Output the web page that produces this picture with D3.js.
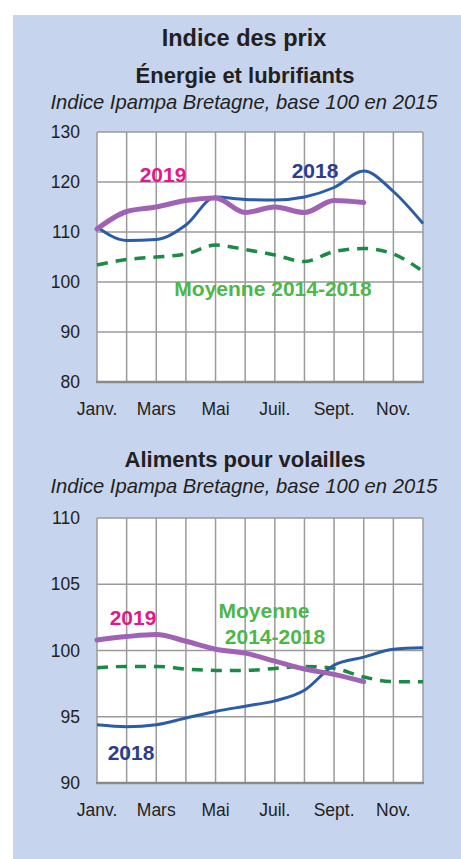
<!DOCTYPE html>
<html lang="fr">
<head>
<meta charset="UTF-8">
<title>Indice des prix</title>
<script src="https://cdn.jsdelivr.net/npm/d3@7"></script>
<style>
  body { margin: 0; background: #fff; }
  svg text { font-family: "Liberation Sans", Arial, sans-serif; }
</style>
</head>
<body>
<div id="chart"></div>
<script>
// mois (points de janvier à décembre)
var mois = ["Janv.", "Févr.", "Mars", "Avr.", "Mai", "Juin", "Juil.", "Août", "Sept.", "Oct.", "Nov.", "Déc."];
var moisAffiches = ["Janv.", "Mars", "Mai", "Juil.", "Sept.", "Nov."];

// Énergie et lubrifiants
var energie2018 = [111, 108.3, 108.5, 111.4, 117, 116.5, 116.4, 117, 118.9, 122.2, 118.1, 111.7];
var energie2019 = [110.6, 114.1, 115, 116.3, 116.8, 113.9, 115, 113.9, 116.3, 115.9];
var energieMoy = [103.4, 104.5, 105, 105.6, 107.4, 106.5, 105.4, 104.1, 106.1, 106.7, 105.6, 102.1];
var energieTicks = [80, 90, 100, 110, 120, 130];

// Aliments pour volailles
var aliments2018 = [94.4, 94.25, 94.4, 94.9, 95.4, 95.8, 96.2, 97.0, 98.9, 99.5, 100.1, 100.2];
var aliments2019 = [100.8, 101.05, 101.2, 100.7, 100.1, 99.8, 99.2, 98.6, 98.2, 97.65];
var alimentsMoy = [98.7, 98.8, 98.8, 98.6, 98.5, 98.5, 98.65, 98.8, 98.65, 98.0, 97.65, 97.65];
var alimentsTicks = [90, 95, 100, 105, 110];

var W = 461, H = 859;
var svg = d3.select("#chart").append("svg")
    .attr("width", W)
    .attr("height", H);

svg.append("rect")
    .attr("x", 13).attr("y", 15)
    .attr("width", W - 13).attr("height", H - 15)
    .attr("fill", "#c6d4ed");

svg.append("text")
    .attr("x", 244).attr("y", 46)
    .attr("text-anchor", "middle")
    .attr("font-size", 23.5).attr("font-weight", "bold")
    .attr("fill", "#231f20")
    .text("Indice des prix");

function panel(opt) {
    var x = d3.scalePoint().domain(mois).range([97, 423]);
    var y = d3.scaleLinear().domain(opt.domain).range([opt.bottom, opt.top]);

    svg.append("text")
        .attr("x", 245).attr("y", opt.titleY)
        .attr("text-anchor", "middle")
        .attr("font-size", 22).attr("font-weight", "bold")
        .attr("fill", "#231f20")
        .text(opt.title);
    svg.append("text")
        .attr("x", 244).attr("y", opt.titleY + 26)
        .attr("text-anchor", "middle")
        .attr("font-size", 20.2).attr("font-style", "italic")
        .attr("fill", "#231f20")
        .text("Indice Ipampa Bretagne, base 100 en 2015");

    var g = svg.append("g");
    g.append("rect")
        .attr("x", 97).attr("y", opt.top)
        .attr("width", 326).attr("height", opt.bottom - opt.top)
        .attr("fill", "#fff");

    g.selectAll(".vg").data(mois).enter().append("line")
        .attr("x1", d => x(d)).attr("x2", d => x(d))
        .attr("y1", opt.top).attr("y2", opt.bottom)
        .attr("stroke", "#9a9a9a").attr("stroke-width", 1.5);
    g.selectAll(".hg").data(opt.ticks).enter().append("line")
        .attr("x1", 97).attr("x2", 423)
        .attr("y1", d => y(d)).attr("y2", d => y(d))
        .attr("stroke", "#9a9a9a").attr("stroke-width", 1.5);
    g.append("line")
        .attr("x1", 96).attr("x2", 424)
        .attr("y1", opt.bottom).attr("y2", opt.bottom)
        .attr("stroke", "#8a8a8a").attr("stroke-width", 2.5);

    g.selectAll(".yl").data(opt.ticks).enter().append("text")
        .attr("x", 80).attr("y", d => y(d) + 6)
        .attr("text-anchor", "end")
        .attr("font-size", 17.5).attr("fill", "#231f20")
        .text(d => d);
    g.selectAll(".xl").data(moisAffiches).enter().append("text")
        .attr("x", d => x(d)).attr("y", opt.bottom + 33)
        .attr("text-anchor", "middle")
        .attr("font-size", 17.5).attr("fill", "#231f20")
        .text(d => d);

    var line = d3.line()
        .x((d, i) => x(mois[i]))
        .y(d => y(d))
        .curve(d3.curveMonotoneX);

    g.append("path").datum(opt.moy)
        .attr("d", line).attr("fill", "none")
        .attr("stroke", "#1a8a46").attr("stroke-width", 3.5)
        .attr("stroke-dasharray", "11,8");
    g.append("path").datum(opt.s2018)
        .attr("d", line).attr("fill", "none")
        .attr("stroke", "#2a5ca8").attr("stroke-width", 3);
    g.append("path").datum(opt.s2019)
        .attr("d", line).attr("fill", "none")
        .attr("stroke", "#a062b4").attr("stroke-width", 5)
        .attr("stroke-linecap", "round");

    opt.labels.forEach(function (l) {
        g.append("text")
            .attr("x", l.x).attr("y", l.y)
            .attr("text-anchor", "middle")
            .attr("font-size", 21).attr("font-weight", "bold")
            .attr("fill", l.color)
            .text(l.text);
    });
}

panel({
    title: "Énergie et lubrifiants",
    titleY: 83,
    domain: [80, 130], top: 132, bottom: 382,
    ticks: energieTicks,
    s2018: energie2018, s2019: energie2019, moy: energieMoy,
    labels: [
        {text: "2019", x: 163, y: 182, color: "#e5168b"},
        {text: "2018", x: 315, y: 178, color: "#2c3d8f"},
        {text: "Moyenne 2014-2018", x: 273, y: 296, color: "#4cb74a"}
    ]
});

panel({
    title: "Aliments pour volailles",
    titleY: 467,
    domain: [90, 110], top: 518, bottom: 783,
    ticks: alimentsTicks,
    s2018: aliments2018, s2019: aliments2019, moy: alimentsMoy,
    labels: [
        {text: "2019", x: 133, y: 625, color: "#e5168b"},
        {text: "Moyenne", x: 264, y: 618, color: "#4cb74a"},
        {text: "2014-2018", x: 275, y: 644, color: "#4cb74a"},
        {text: "2018", x: 131, y: 760, color: "#2c3d8f"}
    ]
});
</script>
</body>
</html>
